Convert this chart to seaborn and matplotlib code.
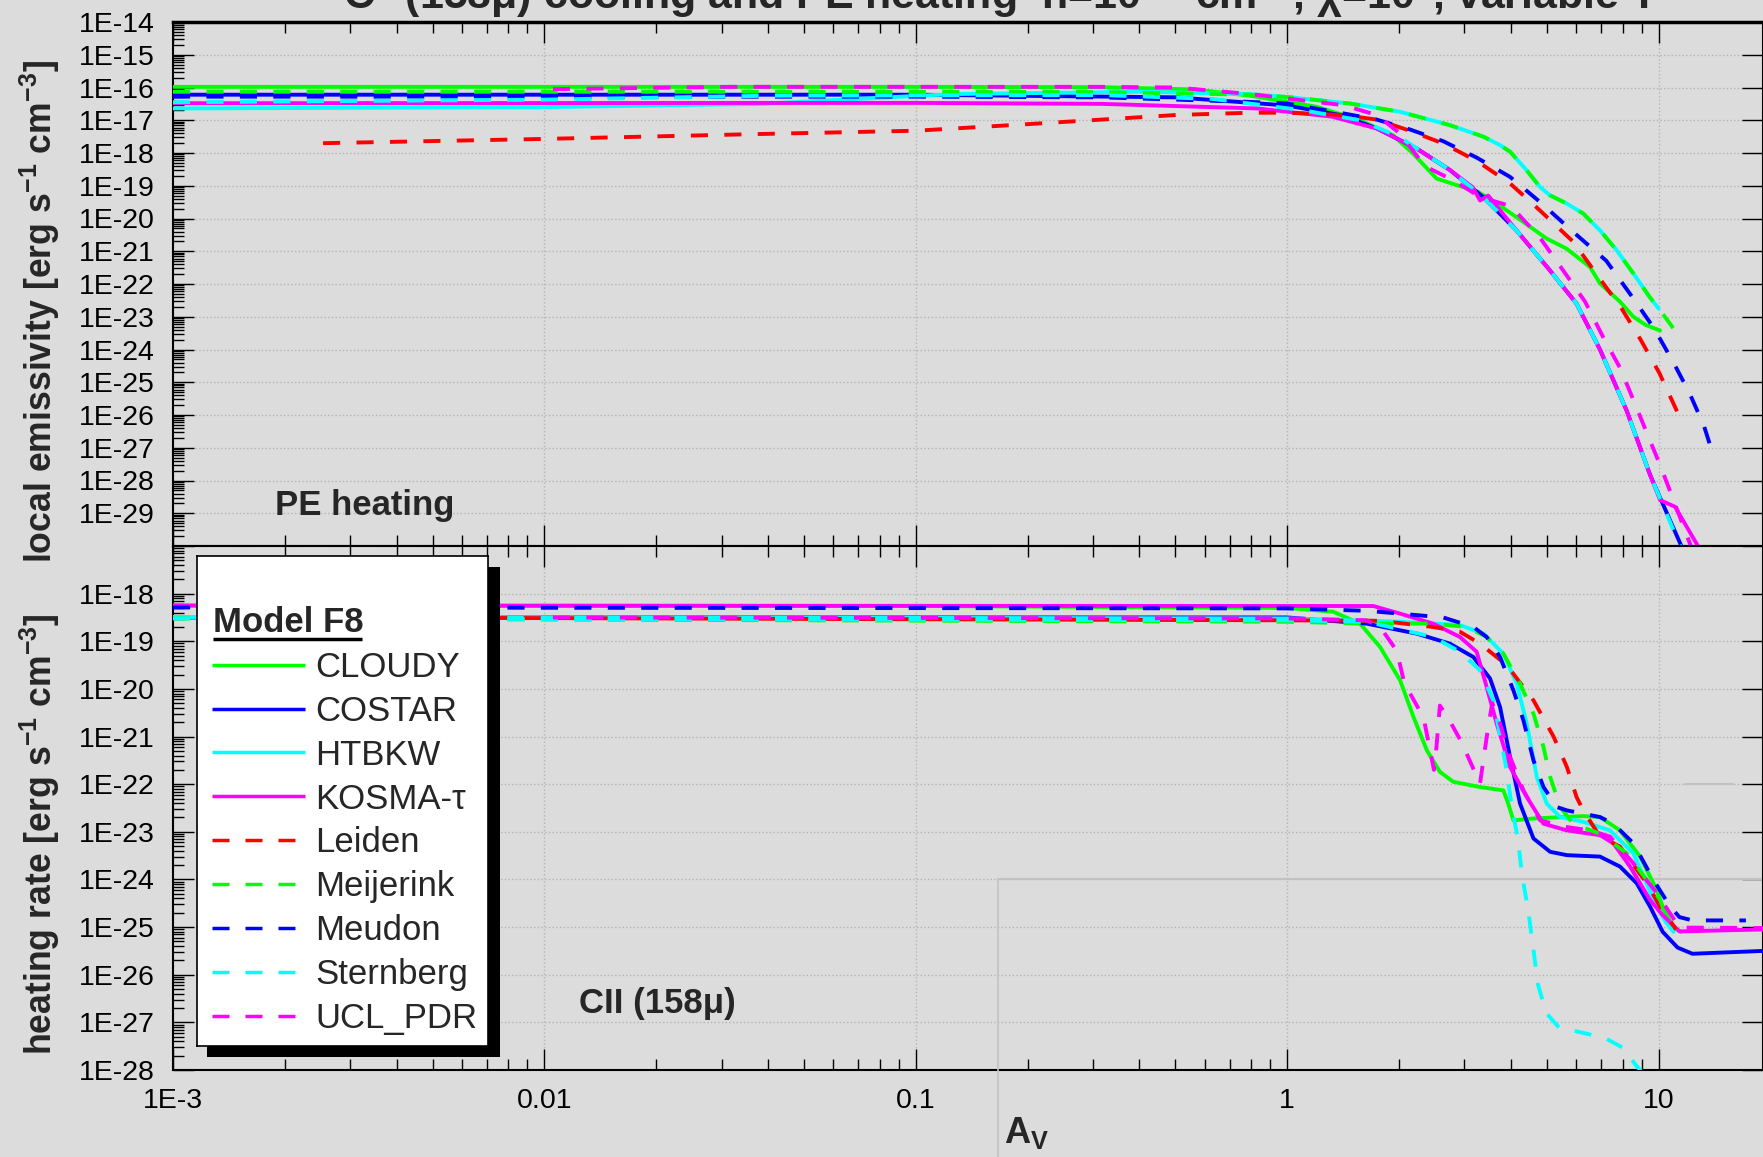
import numpy as np
import pandas as pd
import matplotlib
matplotlib.use("Agg")
import matplotlib.pyplot as plt
import seaborn as sns
from matplotlib.ticker import LogLocator, FuncFormatter, NullFormatter
from matplotlib.patches import Rectangle
from matplotlib.lines import Line2D

sns.set_style("ticks")
plt.rcParams['font.family'] = ['Liberation Sans', 'DejaVu Sans']
plt.rcParams['mathtext.fontset'] = 'custom'
plt.rcParams['mathtext.rm'] = 'Liberation Sans'
plt.rcParams['mathtext.bf'] = 'Liberation Sans:bold'
plt.rcParams['mathtext.it'] = 'Liberation Sans:italic'

W, H = 1763, 1157
BG = '#dcdcdc'

# ---------------------------------------------------------
# models (legend order)
# ---------------------------------------------------------
MODELS = ['CLOUDY', 'COSTAR', 'HTBKW', 'KOSMA-τ', 'Leiden', 'Meijerink', 'Meudon', 'Sternberg', 'UCL_PDR']
COLORS = ['#00ff00', '#0000ff', '#00ffff', '#ff00ff', '#ff0000', '#00ff00', '#0000ff', '#00ffff', '#ff00ff']
DASHED = [False, False, False, False, True, True, True, True, True]

# ---------------------------------------------------------
# top panel: PE heating, log10(Av) / log10(emissivity)
# ---------------------------------------------------------
PE_CLOUDY_AV = [-3, -1, -0.5, -0.25, -0.1, 0.08, 0.196, 0.285, 0.339, 0.402, 0.456, 0.51, 0.564, 0.635, 0.698, 0.752, 0.815, 0.842, 0.896, 0.932, 0.965, 1.004]
PE_CLOUDY_Y = [-15.98, -15.98, -15.99, -16.06, -16.25, -16.59, -17.0, -17.46, -18.02, -18.78, -18.98, -19.16, -19.54, -20.10, -20.61, -20.92, -21.48, -21.98, -22.54, -23.0, -23.25, -23.42]

PE_COSTAR_AV = [-3, -1, -0.3, 0.0, 0.147, 0.241, 0.348, 0.438, 0.527, 0.617, 0.707, 0.779, 0.842, 0.914, 0.977, 1.065]
PE_COSTAR_Y = [-16.22, -16.22, -16.3, -16.55, -16.85, -17.25, -17.86, -18.52, -19.34, -20.36, -21.58, -22.6, -24.0, -25.87, -27.83, -30.1]

PE_HTBKW_AV = [-3, -2, -1.42, -0.9, -0.39, -0.1, 0.0, 0.169, 0.303, 0.438, 0.528, 0.573, 0.6, 0.644, 0.68, 0.707, 0.752, 0.797, 0.842, 0.887, 0.932, 0.976, 1.0]
PE_HTBKW_Y = [-16.64, -16.6, -16.5, -16.2, -16.13, -16.2, -16.29, -16.49, -16.74, -17.15, -17.5, -17.76, -17.96, -18.52, -19.03, -19.29, -19.54, -19.85, -20.36, -20.97, -21.68, -22.4, -22.75]

PE_KOSMA_AV = [-3, -1, -0.5, -0.08, 0.12, 0.241, 0.348, 0.438, 0.5, 0.519, 0.541, 0.617, 0.707, 0.779, 0.842, 0.914, 0.977, 1.004, 1.044, 1.111]
PE_KOSMA_Y = [-16.48, -16.47, -16.5, -16.64, -16.89, -17.25, -17.86, -18.52, -19.05, -19.45, -19.3, -20.36, -21.58, -22.6, -24.0, -25.87, -27.83, -28.6, -28.8, -30.1]

PE_LEIDEN_AV = [-2.596, -2.0, -1.42, -1.0, -0.7, -0.5, -0.3, -0.1, 0.0, 0.151, 0.241, 0.33, 0.42, 0.51, 0.6, 0.68, 0.77, 0.838, 0.901, 0.952, 1.002, 1.05]
PE_LEIDEN_Y = [-17.70, -17.57, -17.42, -17.32, -17.12, -16.98, -16.84, -16.77, -16.77, -16.84, -16.98, -17.32, -17.71, -18.24, -18.93, -19.75, -20.71, -21.78, -22.76, -23.71, -24.72, -25.9]

PE_MEIJ_AV = [-3, -1, -0.5, -0.1, 0.0, 0.169, 0.303, 0.438, 0.528, 0.573, 0.6, 0.644, 0.68, 0.707, 0.752, 0.797, 0.842, 0.887, 0.932, 0.976, 1.0, 1.02, 1.04]
PE_MEIJ_Y = [-16.13, -16.13, -16.14, -16.22, -16.29, -16.49, -16.74, -17.15, -17.5, -17.76, -17.96, -18.52, -19.03, -19.29, -19.54, -19.85, -20.36, -20.97, -21.68, -22.4, -22.75, -23.05, -23.36]

PE_MEUDON_AV = [-3, -1, -0.5, -0.1, 0.0, 0.151, 0.241, 0.33, 0.42, 0.51, 0.6, 0.68, 0.77, 0.859, 0.928, 0.988, 1.04, 1.083, 1.122, 1.146]
PE_MEUDON_Y = [-16.28, -16.28, -16.3, -16.44, -16.49, -16.79, -16.98, -17.28, -17.64, -18.14, -18.73, -19.49, -20.41, -21.29, -22.38, -23.36, -24.40, -25.33, -26.33, -27.19]

PE_STERN_AV = [-3, -2, -1.39, -0.5, -0.2, 0.04, 0.196, 0.3, 0.438, 0.527, 0.617, 0.707, 0.779, 0.842, 0.914, 0.977, 1.062]
PE_STERN_Y = [-16.45, -16.37, -16.25, -16.23, -16.35, -16.69, -17.0, -17.5, -18.52, -19.34, -20.36, -21.58, -22.6, -24.0, -25.87, -27.83, -30.1]

PE_UCL_AV = [-1.977, -1.5, -0.5, -0.3, -0.1, 0.151, 0.241, 0.303, 0.37, 0.45, 0.52, 0.602, 0.68, 0.745, 0.802, 0.851, 0.896, 0.932, 0.972, 1.005, 1.04, 1.07, 1.09]
PE_UCL_Y = [-16.05, -15.98, -15.98, -16.0, -16.2, -16.54, -16.84, -17.4, -18.4, -18.85, -19.35, -19.62, -20.58, -21.62, -22.54, -23.63, -24.56, -25.54, -26.65, -27.56, -28.6, -29.5, -30.1]

# ---------------------------------------------------------
# bottom panel: CII (158mu) cooling, log10(Av) / log10(rate)
# ---------------------------------------------------------
CII_CLOUDY_AV = [-3, -1, 0.0, 0.124, 0.196, 0.25, 0.304, 0.34, 0.376, 0.411, 0.447, 0.519, 0.582, 0.595, 0.609, 0.663, 0.797, 0.842, 0.896, 0.95, 0.995, 1.011, 1.04, 1.06]
CII_CLOUDY_Y = [-18.25, -18.26, -18.3, -18.38, -18.63, -19.12, -19.82, -20.59, -21.29, -21.74, -21.95, -22.06, -22.13, -22.41, -22.76, -22.72, -22.67, -22.69, -22.97, -23.52, -24.22, -24.6, -25.0, -25.1]

CII_COSTAR_AV = [-3, -1, 0.0, 0.214, 0.349, 0.438, 0.501, 0.546, 0.573, 0.6, 0.627, 0.663, 0.708, 0.753, 0.842, 0.896, 0.941, 0.977, 1.011, 1.051, 1.091, 1.281]
CII_COSTAR_Y = [-18.5, -18.5, -18.5, -18.63, -18.84, -19.05, -19.33, -19.78, -20.38, -21.43, -22.41, -23.14, -23.42, -23.49, -23.52, -23.73, -24.08, -24.57, -25.10, -25.43, -25.56, -25.5]

CII_HTBKW_AV = [-3, 0.0, 0.304, 0.465, 0.528, 0.582, 0.618, 0.645, 0.672, 0.699, 0.735, 0.797, 0.869, 0.932, 0.995, 1.02, 1.04]
CII_HTBKW_Y = [-18.49, -18.52, -18.59, -18.66, -18.84, -19.26, -19.89, -20.73, -21.85, -22.41, -22.69, -22.79, -22.97, -23.45, -24.57, -24.9, -25.1]

CII_KOSMA_AV = [-3, 0.232, 0.304, 0.393, 0.465, 0.51, 0.537, 0.564, 0.6, 0.645, 0.69, 0.753, 0.842, 0.878, 0.923, 0.977, 1.011, 1.056, 1.281]
CII_KOSMA_Y = [-18.25, -18.26, -18.42, -18.63, -18.91, -19.22, -19.96, -20.73, -21.64, -22.27, -22.83, -22.97, -23.07, -23.24, -23.73, -24.43, -24.75, -25.09, -25.05]

CII_LEIDEN_AV = [-2.596, 0.0, 0.25, 0.393, 0.465, 0.519, 0.591, 0.663, 0.717, 0.753, 0.779, 0.797, 0.842, 0.896, 0.968, 1.004, 1.047]
CII_LEIDEN_Y = [-18.5, -18.56, -18.57, -18.7, -18.8, -19.05, -19.5, -20.24, -21.0, -21.64, -22.27, -22.55, -23.1, -23.31, -24.08, -24.57, -25.05]

CII_MEIJ_AV = [-3, 0.0, 0.214, 0.393, 0.483, 0.537, 0.582, 0.627, 0.663, 0.69, 0.708, 0.735, 0.77, 0.842, 0.914, 0.968, 1.004, 1.029]
CII_MEIJ_Y = [-18.52, -18.59, -18.63, -18.63, -18.7, -18.91, -19.26, -19.89, -20.52, -21.22, -21.85, -22.48, -22.83, -23.04, -23.45, -24.01, -24.43, -24.97]

CII_MEUDON_AV = [-3, 0.0, 0.214, 0.304, 0.42, 0.501, 0.537, 0.573, 0.609, 0.636, 0.663, 0.69, 0.726, 0.753, 0.842, 0.878, 0.932, 0.986, 1.031, 1.056, 1.091, 1.235]
CII_MEUDON_Y = [-18.29, -18.31, -18.36, -18.42, -18.5, -18.7, -18.91, -19.33, -20.03, -20.66, -21.5, -22.06, -22.48, -22.55, -22.69, -22.83, -23.24, -24.01, -24.57, -24.79, -24.86, -24.86]

CII_STERN_AV = [-3, 0.0, 0.214, 0.393, 0.465, 0.519, 0.555, 0.59, 0.605, 0.62, 0.634, 0.648, 0.66, 0.675, 0.697, 0.733, 0.769, 0.818, 0.858, 0.903, 0.939, 0.955]
CII_STERN_Y = [-18.52, -18.56, -18.59, -18.91, -19.22, -19.61, -20.24, -21.67, -22.5, -23.1, -24.0, -24.6, -25.3, -26.2, -26.8, -27.12, -27.17, -27.26, -27.34, -27.53, -27.9, -28.05]

CII_UCL_AV = [-1.977, 0.0, 0.214, 0.25, 0.295, 0.313, 0.331, 0.367, 0.395, 0.402, 0.411, 0.434, 0.47, 0.519, 0.528, 0.541, 0.552, 0.573, 0.6, 0.636, 0.681, 0.753, 0.815, 0.869, 0.932, 0.995, 1.056, 1.281]
CII_UCL_Y = [-18.5, -18.52, -18.56, -18.7, -19.2, -19.8, -20.1, -20.6, -21.7, -21.2, -20.35, -20.62, -21.13, -21.99, -21.5, -20.8, -20.3, -20.73, -21.43, -22.13, -22.76, -22.9, -22.97, -23.1, -23.66, -24.29, -25.01, -25.02]

# stray grey rules in the lower frame (log10 y, log10 Av start, log10 Av end)
STRAY_Y = [-24.0, -22.0]
STRAY_X0 = [-0.78, 1.07]
STRAY_X1 = [1.281, 1.2]

PE_CURVES = [(PE_CLOUDY_AV, PE_CLOUDY_Y), (PE_COSTAR_AV, PE_COSTAR_Y), (PE_HTBKW_AV, PE_HTBKW_Y),
             (PE_KOSMA_AV, PE_KOSMA_Y), (PE_LEIDEN_AV, PE_LEIDEN_Y), (PE_MEIJ_AV, PE_MEIJ_Y),
             (PE_MEUDON_AV, PE_MEUDON_Y), (PE_STERN_AV, PE_STERN_Y), (PE_UCL_AV, PE_UCL_Y)]
CII_CURVES = [(CII_CLOUDY_AV, CII_CLOUDY_Y), (CII_COSTAR_AV, CII_COSTAR_Y), (CII_HTBKW_AV, CII_HTBKW_Y),
              (CII_KOSMA_AV, CII_KOSMA_Y), (CII_LEIDEN_AV, CII_LEIDEN_Y), (CII_MEIJ_AV, CII_MEIJ_Y),
              (CII_MEUDON_AV, CII_MEUDON_Y), (CII_STERN_AV, CII_STERN_Y), (CII_UCL_AV, CII_UCL_Y)]

LW = 2.8
DASH = (0, (4.4, 4.2))

fig = plt.figure(figsize=(W / 100, H / 100), dpi=100, facecolor=BG)
ax1 = fig.add_axes([173 / W, 1 - 546 / H, (W - 173) / W, (546 - 22) / H])
ax2 = fig.add_axes([173 / W, 1 - 1070 / H, (W - 173) / W, (1070 - 546) / H])

xlabels = {-3: '1E-3', -2: '0.01', -1: '0.1', 0: '1', 1: '10'}


def draw_panel(ax, curves, ylo, yhi, skip_label):
    ax.set_xscale('log')
    ax.set_yscale('log')
    ax.set_facecolor(BG)
    for name, col, dashed, (lav, ly) in zip(MODELS, COLORS, DASHED, curves):
        df = pd.DataFrame({'Av': 10 ** np.array(lav, dtype=float), 'val': 10 ** np.array(ly, dtype=float)})
        sns.lineplot(data=df, x='Av', y='val', ax=ax, color=col, lw=LW,
                     linestyle=DASH if dashed else '-', estimator=None, sort=False,
                     legend=False, zorder=3)
    ax.set_xlim(1e-3, 10 ** 1.281)
    ax.set_ylim(10.0 ** ylo, 10.0 ** yhi)
    ax.set_xlabel('')
    ax.set_ylabel('')
    ax.xaxis.set_major_locator(LogLocator(base=10, numticks=20))
    ax.xaxis.set_minor_locator(LogLocator(base=10, subs=np.arange(2, 10), numticks=200))
    ax.yaxis.set_major_locator(LogLocator(base=10, numticks=50))
    ax.yaxis.set_minor_locator(LogLocator(base=10, subs=np.arange(2, 10), numticks=500))
    ax.xaxis.set_minor_formatter(NullFormatter())
    ax.yaxis.set_minor_formatter(NullFormatter())

    def yfmt(v, pos):
        e = int(round(np.log10(v)))
        return '' if e == skip_label else f'1E{e}'
    ax.yaxis.set_major_formatter(FuncFormatter(yfmt))
    ax.tick_params(which='both', direction='in', top=True, right=True, width=1, colors='black')
    ax.tick_params(which='major', length=15)
    ax.tick_params(which='minor', length=8)
    ax.tick_params(axis='y', which='minor', right=False)
    ax.tick_params(axis='y', labelsize=20.5, pad=13)
    ax.tick_params(axis='x', labelsize=20.5, pad=13)
    ax.grid(True, which='major', ls=':', color='#b4b4b4', lw=1)
    ax.set_axisbelow(True)
    for s in ax.spines.values():
        s.set_linewidth(1.5)
        s.set_color('black')


draw_panel(ax1, PE_CURVES, -30, -14, -30)
draw_panel(ax2, CII_CURVES, -28, -17, -17)
ax1.spines['top'].set_linewidth(2.5)
ax1.tick_params(axis='x', labelbottom=False)
ax2.xaxis.set_major_formatter(FuncFormatter(lambda v, pos: xlabels.get(int(round(np.log10(v))), '')))

# stray grey rules
for yv, x0, x1 in zip(STRAY_Y, STRAY_X0, STRAY_X1):
    ax2.plot([10 ** x0, 10 ** x1], [10 ** yv, 10 ** yv], color='#c2c2c2', lw=1.5, zorder=1)
p = ax2.transData.transform((10 ** STRAY_X0[0], 10 ** STRAY_Y[0]))
fx, fy = fig.transFigure.inverted().transform(p)
fig.add_artist(Line2D([fx, fx], [0, fy], transform=fig.transFigure, color='#c2c2c2', lw=1.2, zorder=1))

# panel annotations
fig.text(275 / W, 1 - 515 / H, 'PE heating', fontsize=25, fontweight='bold', va='baseline')
fig.text(579 / W, 1 - 1013 / H, 'CII (158μ)', fontsize=25, fontweight='bold', va='baseline')
fig.text(1004 / W, 1 - 1143 / H, r'A$_\mathbf{V}$', fontsize=26, fontweight='bold', va='baseline', ha='left')
fig.text(40 / W, 1 - 311 / H, r'local emissivity [erg s$^{\mathbf{-1}}$ cm$^{\mathbf{-3}}$]',
         rotation=90, ha='center', va='center', fontsize=25.7, fontweight='bold')
fig.text(40 / W, 1 - 834 / H, r'heating rate [erg s$^{\mathbf{-1}}$ cm$^{\mathbf{-3}}$]',
         rotation=90, ha='center', va='center', fontsize=25.7, fontweight='bold')
fig.text(1000 / W, 1 - 9 / H,
         r'C$^{\mathbf{+}}$ (158μ) cooling and PE heating  n=10$^{\mathbf{5.5}}$ cm$^{\mathbf{-3}}$, χ=10$^{\mathbf{5}}$, variable T',
         ha='center', va='baseline', fontsize=30.9, fontweight='bold')

# legend box with drop shadow (pixel coordinates, y downwards)
fig.add_artist(Rectangle((207 / W, 1 - 1057 / H), (500 - 207) / W, (1057 - 567) / H,
                         transform=fig.transFigure, facecolor='black', edgecolor='none', zorder=4))
lax = fig.add_axes([197 / W, 1 - 1046 / H, (488 - 197) / W, (1046 - 555.5) / H], zorder=5)
lax.set_xlim(197, 488)
lax.set_ylim(1046, 555.5)
lax.set_facecolor('white')
lax.set_xticks([])
lax.set_yticks([])
for s in lax.spines.values():
    s.set_linewidth(1.2)
    s.set_color('black')
lax.text(213, 632, 'Model F8', fontsize=25, fontweight='bold', va='baseline', ha='left')
lax.plot([213, 362], [638.5, 638.5], color='black', lw=2.5, solid_capstyle='butt')
for i, (name, col, dashed) in enumerate(zip(MODELS, COLORS, DASHED)):
    yy = 664.7 + 43.85 * i
    lax.plot([212, 305], [yy, yy], color=col, lw=2.5,
             linestyle=(0, (4.9, 4.6)) if dashed else '-', solid_capstyle='butt')
    lax.text(315, yy + 12.4, name, fontsize=25, va='baseline', ha='left')

fig.savefig('out.png', dpi=100, facecolor=BG)
